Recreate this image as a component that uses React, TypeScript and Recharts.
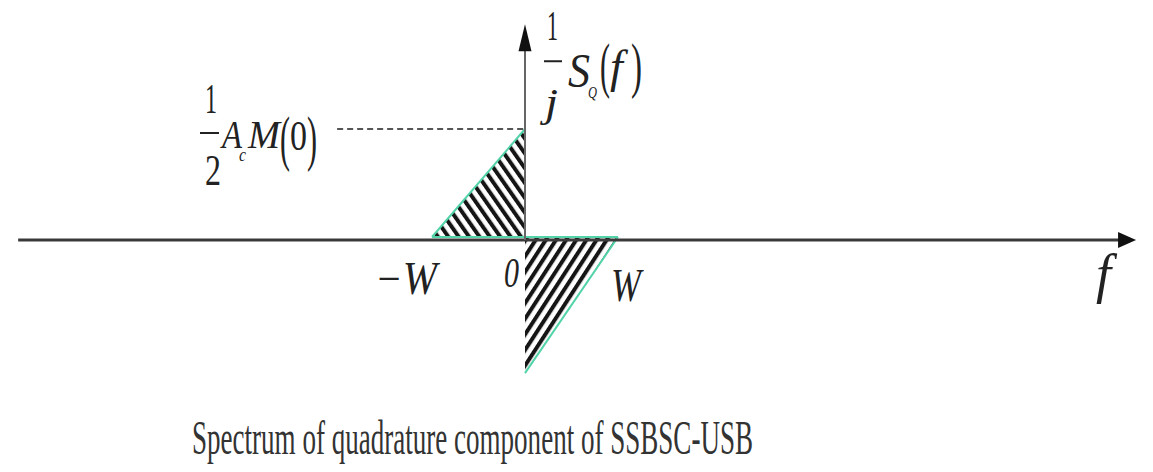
import React from 'react';
import {
  ComposedChart,
  Area,
  XAxis,
  YAxis,
  ReferenceLine,
  ReferenceDot,
  Customized,
} from 'recharts';

// Spectrum values (frequency in units of W, amplitude in units of ½A_cM(0))
const upperFreq = [-1, 0];
const upperValue = [0, 1];
const lowerFreq = [0, 1];
const lowerValue = [-1.26, 0];

// Frequency-axis tick positions and their labels
const tickValues = [-1, 0, 1];
const tickLabels = ['\u2212W', '0', 'W'];

const captionText = 'Spectrum of quadrature component of SSBSC-USB';

const upperData = upperFreq.map((f, i) => ({ f, v: upperValue[i] }));
const lowerData = lowerFreq.map((f, i) => ({ f, v: lowerValue[i] }));

const W = 1153;
const H = 472;
const X_DOMAIN: [number, number] = [-525 / 93, (W - 525) / 93];
const Y_DOMAIN: [number, number] = [(237 - H) / 108, 237 / 108];

const AXIS_Y = -0.028;
const AXIS_LEFT = -5.45;
const AXIS_RIGHT = 6.42;
const V_ARROW_BASE = 1.74;
const V_ARROW_TIP = 1.97;
const DASH_START = -2.02;

const FONT = '"Liberation Serif", "DejaVu Serif", serif';
const INK = '#222';
const GREEN = '#52d3aa';

type Piece = {
  t: string;
  x: number;
  y: number;
  size: number;
  w?: number;
  italic?: boolean;
};

const PieceText = ({ p }: { p: Piece }) => (
  <text
    x={p.x}
    y={p.y}
    fontSize={p.size}
    fontFamily={FONT}
    fontStyle={p.italic ? 'italic' : 'normal'}
    fill={INK}
    textLength={p.w}
    lengthAdjust={p.w ? 'spacingAndGlyphs' : undefined}
  >
    {p.t}
  </text>
);

const makeLabel =
  (pieces: Piece[], bars: [number, number, number][] = []) =>
  (props: any) => {
    const { cx, cy } = props;
    return (
      <g transform={`translate(${cx},${cy})`}>
        {pieces.map((p, i) => (
          <PieceText key={i} p={p} />
        ))}
        {bars.map(([x1, x2, y], i) => (
          <line key={`b${i}`} x1={x1} x2={x2} y1={y} y2={y} stroke={INK} strokeWidth={2} />
        ))}
      </g>
    );
  };

// ½ A_c M(0), anchored at the peak (0, 1)
const peakLabel = makeLabel(
  [
    { t: '1', x: -320, y: -16, size: 42, w: 12 },
    { t: '2', x: -320, y: 56, size: 44, w: 16 },
    { t: 'A', x: -303, y: 19, size: 40, w: 20, italic: true },
    { t: 'c', x: -286, y: 32, size: 19, w: 7, italic: true },
    { t: 'M', x: -277, y: 19, size: 40, w: 32, italic: true },
    { t: '(', x: -245, y: 30, size: 62, w: 10 },
    { t: '0', x: -235, y: 21, size: 42, w: 17 },
    { t: ')', x: -218, y: 30, size: 62, w: 10 },
  ],
  [[-325, -306, 4]]
);

// (1/j) S_Q(f), anchored at the vertical arrow tip
const ordinateLabel = makeLabel(
  [
    { t: '1', x: 22, y: 16, size: 42, w: 11 },
    { t: 'j', x: 20, y: 92, size: 40, w: 13, italic: true },
    { t: 'S', x: 43, y: 63, size: 48, w: 22, italic: true },
    { t: 'Q', x: 63, y: 74, size: 17, w: 9, italic: true },
    { t: '(', x: 75, y: 62, size: 62, w: 10 },
    { t: 'f', x: 85, y: 58, size: 46, italic: true },
    { t: ')', x: 106, y: 62, size: 62, w: 11 },
  ],
  [[19, 37, 37]]
);

const fLabel = makeLabel([{ t: 'f', x: -26, y: 52, size: 54, italic: true }]);

const tickOffsets: Piece[] = [
  { t: '', x: -57, y: 57, size: 46, w: 62, italic: true },
  { t: '', x: -21, y: 50, size: 42, w: 15, italic: true },
  { t: '', x: -7, y: 64, size: 46, w: 30, italic: true },
];

const hArrow = (props: any) => {
  const { cx, cy } = props;
  return (
    <polygon
      points={`${cx + 14},${cy} ${cx - 4},${cy - 8} ${cx - 4},${cy + 8}`}
      fill="#111"
    />
  );
};

const vArrow = (props: any) => {
  const { cx, cy } = props;
  return (
    <polygon
      points={`${cx},${cy} ${cx - 6.5},${cy + 27} ${cx + 6.5},${cy + 27}`}
      fill="#111"
    />
  );
};

const Caption = () => (
  <text
    x={192}
    y={454}
    fontSize={49}
    fontFamily={FONT}
    fill="#333"
    textLength={561}
    lengthAdjust="spacingAndGlyphs"
  >
    {captionText}
  </text>
);

export default function App() {
  return (
    <div style={{ position: 'absolute', left: 0, top: 0, width: W, height: H, background: '#fff' }}>
      <svg width={0} height={0} style={{ position: 'absolute' }}>
        <defs>
          <pattern id="hatchLeft" patternUnits="userSpaceOnUse" width={8.5} height={8.5} patternTransform="rotate(-35)">
            <rect width={8.5} height={8.5} fill="#fff" />
            <rect width={4} height={8.5} fill="#151515" />
          </pattern>
          <pattern id="hatchRight" patternUnits="userSpaceOnUse" width={8.5} height={8.5} patternTransform="rotate(33)">
            <rect width={8.5} height={8.5} fill="#fff" />
            <rect width={4} height={8.5} fill="#151515" />
          </pattern>
        </defs>
      </svg>
      <ComposedChart width={W} height={H} margin={{ top: 0, right: 0, bottom: 0, left: 0 }}>
        <XAxis type="number" dataKey="f" domain={X_DOMAIN} allowDataOverflow hide />
        <YAxis type="number" dataKey="v" domain={Y_DOMAIN} allowDataOverflow hide />

        <Area
          data={upperData}
          dataKey="v"
          type="linear"
          baseValue={0}
          fill="url(#hatchLeft)"
          fillOpacity={1}
          stroke={GREEN}
          strokeWidth={2}
          isAnimationActive={false}
          dot={false}
          activeDot={false}
        />
        <Area
          data={lowerData}
          dataKey="v"
          type="linear"
          baseValue={0}
          fill="url(#hatchRight)"
          fillOpacity={1}
          stroke={GREEN}
          strokeWidth={2}
          isAnimationActive={false}
          dot={false}
          activeDot={false}
        />

        {/* green base edge of both triangles */}
        <ReferenceLine
          segment={[{ x: tickValues[0], y: 0 }, { x: tickValues[2], y: 0 }]}
          stroke={GREEN}
          strokeWidth={2}
        />

        {/* frequency axis */}
        <ReferenceLine
          segment={[{ x: AXIS_LEFT, y: AXIS_Y }, { x: AXIS_RIGHT, y: AXIS_Y }]}
          stroke="#3a3a3a"
          strokeWidth={3}
        />
        <ReferenceDot x={AXIS_RIGHT} y={AXIS_Y} r={0} shape={hArrow} />

        {/* spectrum axis */}
        <ReferenceLine
          segment={[{ x: 0, y: AXIS_Y }, { x: 0, y: V_ARROW_BASE }]}
          stroke="#666"
          strokeWidth={2}
        />
        <ReferenceDot x={0} y={V_ARROW_TIP} r={0} shape={vArrow} />

        {/* level of the peak */}
        <ReferenceLine
          segment={[{ x: DASH_START, y: upperValue[1] }, { x: 0, y: upperValue[1] }]}
          stroke="#555"
          strokeWidth={2}
          strokeDasharray="6 4"
        />

        <ReferenceDot x={upperFreq[1]} y={upperValue[1]} r={0} shape={peakLabel} />
        <ReferenceDot x={0} y={V_ARROW_TIP} r={0} shape={ordinateLabel} />
        <ReferenceDot x={AXIS_RIGHT} y={AXIS_Y} r={0} shape={fLabel} />

        {tickValues.map((tv, i) => (
          <ReferenceDot
            key={tv}
            x={tv}
            y={0}
            r={0}
            shape={makeLabel([{ ...tickOffsets[i], t: tickLabels[i] }])}
          />
        ))}

        <Customized component={Caption} />
      </ComposedChart>
    </div>
  );
}
